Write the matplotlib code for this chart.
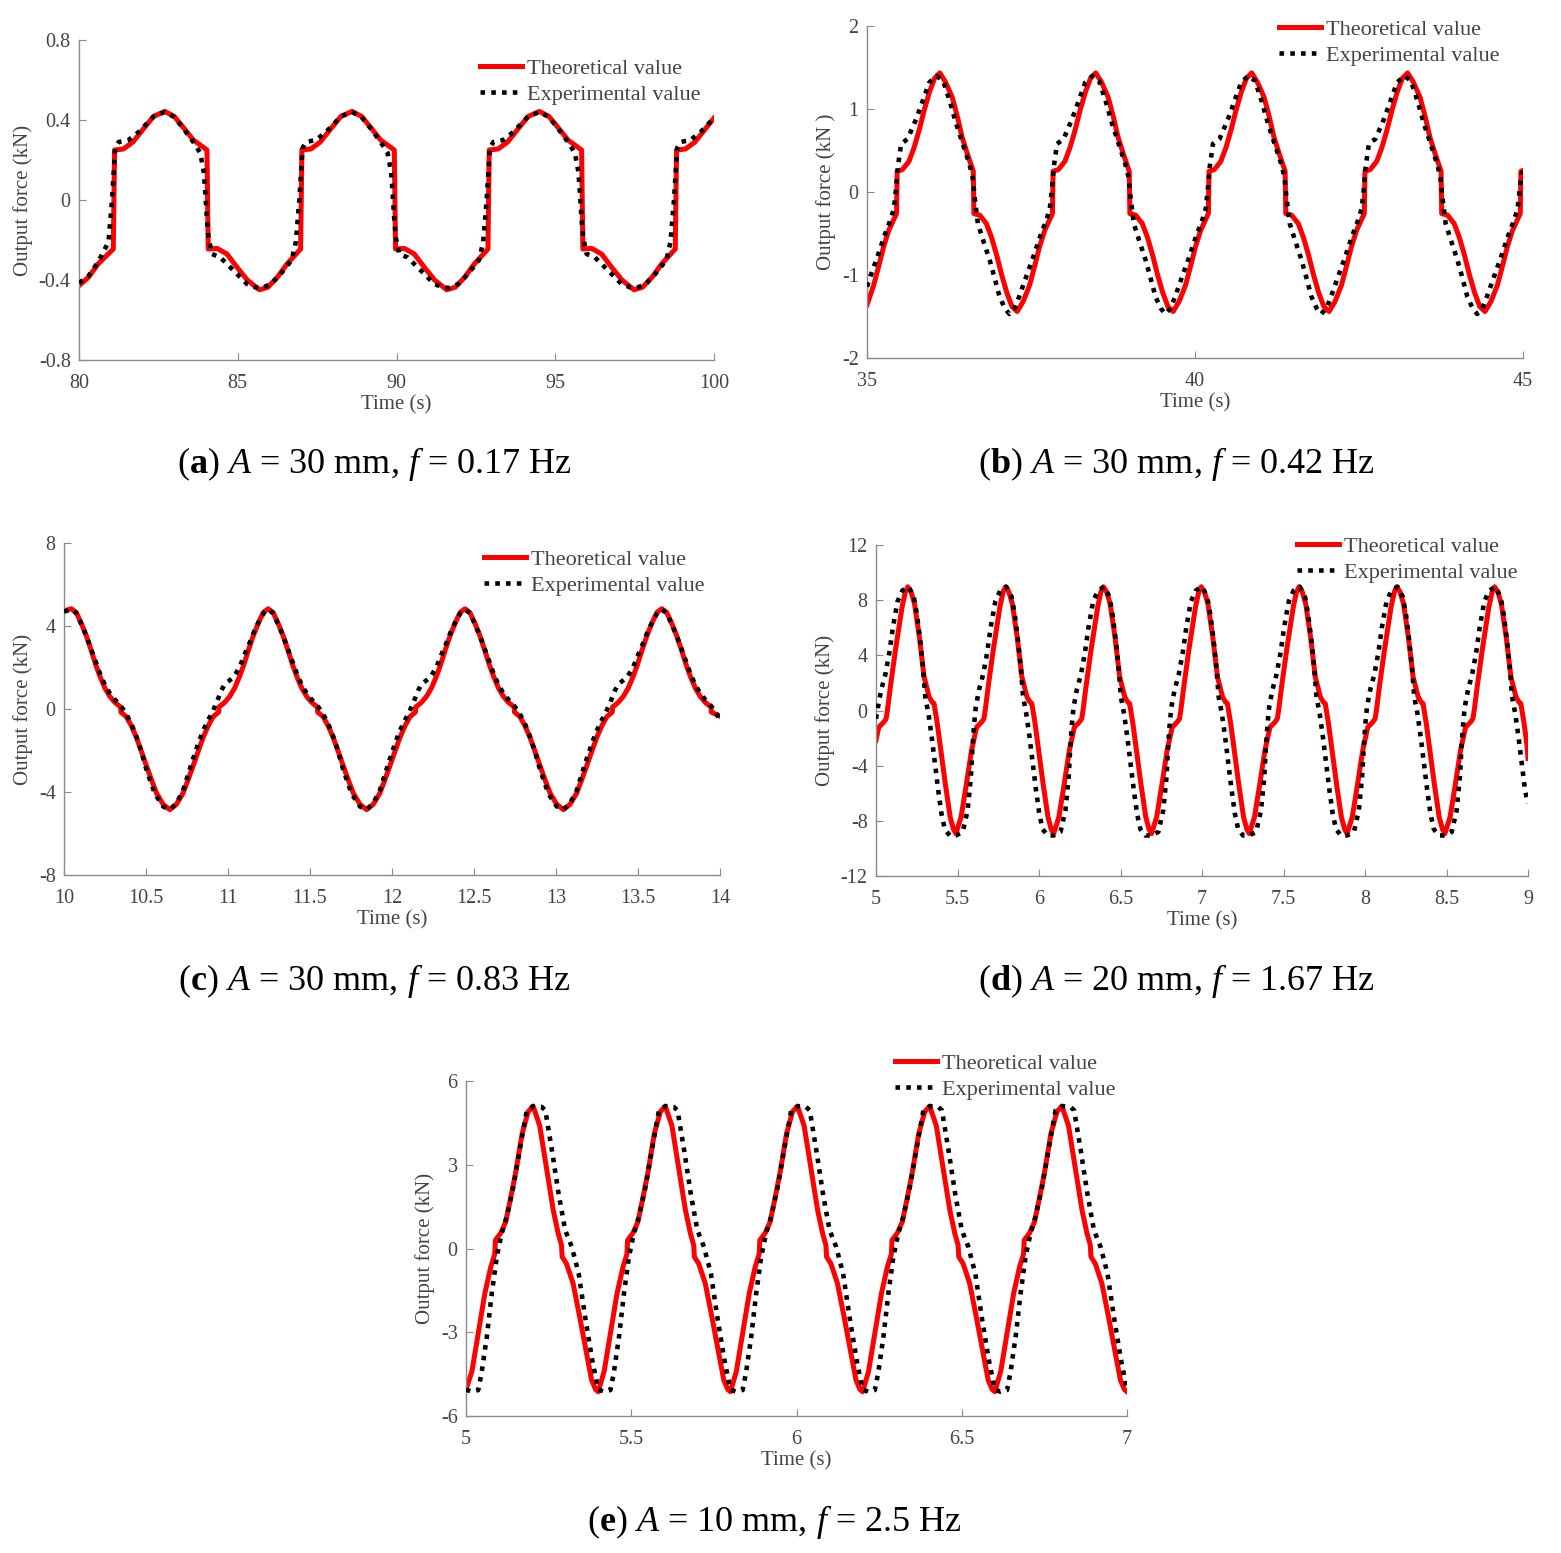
import matplotlib
matplotlib.use("Agg")
import matplotlib.pyplot as plt

plt.rcParams['font.family'] = ['Liberation Serif', 'DejaVu Serif']
plt.rcParams['mathtext.fontset'] = 'custom'
plt.rcParams['mathtext.rm'] = 'Liberation Serif'
plt.rcParams['mathtext.it'] = 'Liberation Serif:italic'
plt.rcParams['mathtext.bf'] = 'Liberation Serif:bold'
plt.rcParams['axes.unicode_minus'] = False

# ---------------- data ----------------
# (a) A = 30 mm, f = 0.17 Hz
a_theo_t = [80.00, 80.30, 80.60, 81.08, 81.12, 81.40, 81.70, 82.05, 82.35, 82.70, 83.00, 83.30, 83.60, 84.03, 84.07,
            84.35, 84.66, 84.98, 85.30, 85.68, 85.95, 86.25, 86.55, 86.98, 87.02, 87.30, 87.60, 87.95, 88.25, 88.60,
            88.90, 89.20, 89.50, 89.93, 89.97, 90.25, 90.56, 90.88, 91.20, 91.58, 91.85, 92.15, 92.45, 92.88, 92.92,
            93.20, 93.50, 93.85, 94.15, 94.50, 94.80, 95.10, 95.40, 95.83, 95.87, 96.15, 96.46, 96.78, 97.10, 97.48,
            97.75, 98.05, 98.35, 98.78, 98.82, 99.10, 99.40, 99.75, 100.00]
a_theo_y = [-0.428, -0.386, -0.320, -0.245, 0.250, 0.255, 0.290, 0.360, 0.418, 0.443, 0.418, 0.360, 0.300, 0.250, -0.245,
            -0.242, -0.270, -0.337, -0.400, -0.449, -0.436, -0.386, -0.320, -0.245, 0.250, 0.255, 0.290, 0.360, 0.418, 0.443,
            0.418, 0.360, 0.300, 0.250, -0.245, -0.242, -0.270, -0.337, -0.400, -0.449, -0.436, -0.386, -0.320, -0.245, 0.250,
            0.255, 0.290, 0.360, 0.418, 0.443, 0.418, 0.360, 0.300, 0.250, -0.245, -0.242, -0.270, -0.337, -0.400, -0.449,
            -0.436, -0.386, -0.320, -0.245, 0.250, 0.255, 0.290, 0.360, 0.410]
a_exp_t = [80.00, 80.30, 80.60, 80.93, 81.04, 81.14, 81.25, 81.56, 81.88, 82.35, 82.70, 83.00, 83.30, 83.60, 83.82,
           83.93, 83.98, 84.03, 84.08, 84.19, 84.45, 84.87, 85.29, 85.55, 85.75, 86.05, 86.35, 86.70, 86.83, 86.94,
           87.04, 87.15, 87.46, 87.78, 88.25, 88.60, 88.90, 89.20, 89.50, 89.72, 89.83, 89.88, 89.93, 89.98, 90.09,
           90.35, 90.77, 91.19, 91.45, 91.65, 91.95, 92.25, 92.60, 92.73, 92.84, 92.94, 93.05, 93.36, 93.68, 94.15,
           94.50, 94.80, 95.10, 95.40, 95.62, 95.73, 95.78, 95.83, 95.88, 95.99, 96.25, 96.67, 97.09, 97.35, 97.55,
           97.85, 98.15, 98.50, 98.63, 98.74, 98.84, 98.95, 99.26, 99.58, 100.00]
a_exp_y = [-0.415, -0.380, -0.310, -0.210, 0.000, 0.260, 0.290, 0.300, 0.340, 0.418, 0.440, 0.415, 0.355, 0.290, 0.235,
           0.140, 0.030, -0.100, -0.190, -0.270, -0.287, -0.353, -0.420, -0.436, -0.440, -0.420, -0.370, -0.300, -0.210, 0.000,
           0.260, 0.290, 0.300, 0.340, 0.418, 0.440, 0.415, 0.355, 0.290, 0.235, 0.140, 0.030, -0.100, -0.190, -0.270,
           -0.287, -0.353, -0.420, -0.436, -0.440, -0.420, -0.370, -0.300, -0.210, 0.000, 0.260, 0.290, 0.300, 0.340, 0.418,
           0.440, 0.415, 0.355, 0.290, 0.235, 0.140, 0.030, -0.100, -0.190, -0.270, -0.287, -0.353, -0.420, -0.436, -0.440,
           -0.420, -0.370, -0.300, -0.210, 0.000, 0.260, 0.290, 0.300, 0.340, 0.410]

# (b) A = 30 mm, f = 0.42 Hz
b_theo_t = [35.000, 35.103, 35.183, 35.253, 35.333, 35.450, 35.460, 35.540, 35.640, 35.720, 35.800, 35.870, 35.950, 36.030,
            36.110, 36.200, 36.300, 36.380, 36.450, 36.530, 36.620, 36.630, 36.720, 36.820, 36.900, 36.980, 37.050, 37.130,
            37.210, 37.290, 37.380, 37.480, 37.560, 37.630, 37.710, 37.827,
            37.837, 37.917, 38.017, 38.097, 38.177, 38.247, 38.327, 38.407, 38.487, 38.577, 38.677, 38.757, 38.827, 38.907,
            38.997, 39.007, 39.097, 39.197, 39.277, 39.357, 39.427, 39.507, 39.587, 39.667, 39.757, 39.857, 39.937, 40.007,
            40.087, 40.204,
            40.214, 40.294, 40.394, 40.474, 40.554, 40.624, 40.704, 40.784, 40.864, 40.954, 41.054, 41.134, 41.204, 41.284,
            41.374, 41.384, 41.474, 41.574, 41.654, 41.734, 41.804, 41.884, 41.964, 42.044, 42.134, 42.234, 42.314, 42.384,
            42.464, 42.581,
            42.591, 42.671, 42.771, 42.851, 42.931, 43.001, 43.081, 43.161, 43.241, 43.331, 43.431, 43.511, 43.581, 43.661,
            43.751, 43.761, 43.851, 43.951, 44.031, 44.111, 44.181, 44.261, 44.341, 44.421, 44.511, 44.611, 44.691, 44.761,
            44.841, 44.958, 44.968, 45.000]
b_theo_y = [-1.36, -1.12, -0.88, -0.66, -0.46, -0.26, 0.25, 0.27, 0.37, 0.54, 0.76, 0.98, 1.20, 1.37,
            1.435, 1.32, 1.14, 0.90, 0.66, 0.46, 0.25, -0.26, -0.28, -0.38, -0.55, -0.77, -0.99, -1.21,
            -1.38, -1.44, -1.32, -1.12, -0.88, -0.66, -0.46, -0.26,
            0.25, 0.27, 0.37, 0.54, 0.76, 0.98, 1.20, 1.37, 1.435, 1.32, 1.14, 0.90, 0.66, 0.46,
            0.25, -0.26, -0.28, -0.38, -0.55, -0.77, -0.99, -1.21, -1.38, -1.44, -1.32, -1.12, -0.88, -0.66,
            -0.46, -0.26,
            0.25, 0.27, 0.37, 0.54, 0.76, 0.98, 1.20, 1.37, 1.435, 1.32, 1.14, 0.90, 0.66, 0.46,
            0.25, -0.26, -0.28, -0.38, -0.55, -0.77, -0.99, -1.21, -1.38, -1.44, -1.32, -1.12, -0.88, -0.66,
            -0.46, -0.26,
            0.25, 0.27, 0.37, 0.54, 0.76, 0.98, 1.20, 1.37, 1.435, 1.32, 1.14, 0.90, 0.66, 0.46,
            0.25, -0.26, -0.28, -0.38, -0.55, -0.77, -0.99, -1.21, -1.38, -1.44, -1.32, -1.12, -0.88, -0.66,
            -0.46, -0.26, 0.25, 0.26]
b_exp_t = [35.000, 35.050, 35.150, 35.260, 35.360, 35.410, 35.440, 35.470, 35.520, 35.620, 35.750, 35.850, 35.950, 36.060,
           36.160, 36.260, 36.360, 36.460, 36.560, 36.610, 36.640, 36.690, 36.770, 36.870, 36.940, 37.020, 37.100, 37.170,
           37.250, 37.320, 37.427, 37.527, 37.637, 37.737, 37.787,
           37.817, 37.847, 37.897, 37.997, 38.127, 38.227, 38.327, 38.437, 38.537, 38.637, 38.737, 38.837, 38.937, 38.987,
           39.017, 39.067, 39.147, 39.247, 39.317, 39.397, 39.477, 39.547, 39.627, 39.697, 39.804, 39.904, 40.014, 40.114,
           40.164,
           40.194, 40.224, 40.274, 40.374, 40.504, 40.604, 40.704, 40.814, 40.914, 41.014, 41.114, 41.214, 41.314, 41.364,
           41.394, 41.444, 41.524, 41.624, 41.694, 41.774, 41.854, 41.924, 42.004, 42.074, 42.181, 42.281, 42.391, 42.491,
           42.541,
           42.571, 42.601, 42.651, 42.751, 42.881, 42.981, 43.081, 43.191, 43.291, 43.391, 43.491, 43.591, 43.691, 43.741,
           43.771, 43.821, 43.901, 44.001, 44.071, 44.151, 44.231, 44.301, 44.381, 44.451, 44.558, 44.658, 44.768, 44.868,
           44.918, 44.948, 44.978, 45.000]
b_exp_y = [-1.14, -1.02, -0.80, -0.54, -0.33, -0.20, 0.02, 0.30, 0.58, 0.64, 0.88, 1.10, 1.32, 1.40,
           1.34, 1.10, 0.82, 0.58, 0.34, 0.18, -0.06, -0.38, -0.58, -0.82, -1.02, -1.26, -1.40, -1.47,
           -1.40, -1.26, -1.02, -0.80, -0.54, -0.33, -0.20,
           0.02, 0.30, 0.58, 0.64, 0.88, 1.10, 1.32, 1.40, 1.34, 1.10, 0.82, 0.58, 0.34, 0.18,
           -0.06, -0.38, -0.58, -0.82, -1.02, -1.26, -1.40, -1.47, -1.40, -1.26, -1.02, -0.80, -0.54, -0.33,
           -0.20,
           0.02, 0.30, 0.58, 0.64, 0.88, 1.10, 1.32, 1.40, 1.34, 1.10, 0.82, 0.58, 0.34, 0.18,
           -0.06, -0.38, -0.58, -0.82, -1.02, -1.26, -1.40, -1.47, -1.40, -1.26, -1.02, -0.80, -0.54, -0.33,
           -0.20,
           0.02, 0.30, 0.58, 0.64, 0.88, 1.10, 1.32, 1.40, 1.34, 1.10, 0.82, 0.58, 0.34, 0.18,
           -0.06, -0.38, -0.58, -0.82, -1.02, -1.26, -1.40, -1.47, -1.40, -1.26, -1.02, -0.80, -0.54, -0.33,
           -0.20, 0.02, 0.22, 0.25]

# (c) A = 30 mm, f = 0.83 Hz
c_theo_t = [10.000, 10.045, 10.075, 10.105, 10.135, 10.165, 10.195, 10.220, 10.250, 10.280, 10.310, 10.330, 10.345, 10.347,
            10.380, 10.410, 10.440, 10.470, 10.505, 10.535, 10.565, 10.605, 10.645, 10.685, 10.725, 10.755, 10.785, 10.820,
            10.850, 10.880, 10.910, 10.943, 10.945, 10.960, 10.980, 11.010, 11.040, 11.070, 11.095, 11.125, 11.155, 11.185,
            11.215,
            11.245, 11.275, 11.305, 11.335, 11.365, 11.395, 11.420, 11.450, 11.480, 11.510, 11.530, 11.545, 11.547,
            11.580, 11.610, 11.640, 11.670, 11.705, 11.735, 11.765, 11.805, 11.845, 11.885, 11.925, 11.955, 11.985, 12.020,
            12.050, 12.080, 12.110, 12.143, 12.145, 12.160, 12.180, 12.210, 12.240, 12.270, 12.295, 12.325, 12.355, 12.385,
            12.415,
            12.445, 12.475, 12.505, 12.535, 12.565, 12.595, 12.620, 12.650, 12.680, 12.710, 12.730, 12.745, 12.747,
            12.780, 12.810, 12.840, 12.870, 12.905, 12.935, 12.965, 13.005, 13.045, 13.085, 13.125, 13.155, 13.185, 13.220,
            13.250, 13.280, 13.310, 13.343, 13.345, 13.360, 13.380, 13.410, 13.440, 13.470, 13.495, 13.525, 13.555, 13.585,
            13.615,
            13.645, 13.675, 13.705, 13.735, 13.765, 13.795, 13.820, 13.850, 13.880, 13.910, 13.930, 13.945, 13.947, 14.000]
c_theo_y = [4.73, 4.83, 4.65, 4.14, 3.55, 2.85, 2.10, 1.56, 1.00, 0.60, 0.32, 0.19, 0.10, -0.15,
            -0.37, -0.80, -1.34, -2.00, -2.79, -3.45, -4.07, -4.60, -4.85, -4.60, -4.07, -3.45, -2.79, -2.00,
            -1.34, -0.80, -0.37, -0.15, 0.10, 0.19, 0.32, 0.60, 1.00, 1.56, 2.10, 2.85, 3.55, 4.14,
            4.65,
            4.83, 4.65, 4.14, 3.55, 2.85, 2.10, 1.56, 1.00, 0.60, 0.32, 0.19, 0.10, -0.15,
            -0.37, -0.80, -1.34, -2.00, -2.79, -3.45, -4.07, -4.60, -4.85, -4.60, -4.07, -3.45, -2.79, -2.00,
            -1.34, -0.80, -0.37, -0.15, 0.10, 0.19, 0.32, 0.60, 1.00, 1.56, 2.10, 2.85, 3.55, 4.14,
            4.65,
            4.83, 4.65, 4.14, 3.55, 2.85, 2.10, 1.56, 1.00, 0.60, 0.32, 0.19, 0.10, -0.15,
            -0.37, -0.80, -1.34, -2.00, -2.79, -3.45, -4.07, -4.60, -4.85, -4.60, -4.07, -3.45, -2.79, -2.00,
            -1.34, -0.80, -0.37, -0.15, 0.10, 0.19, 0.32, 0.60, 1.00, 1.56, 2.10, 2.85, 3.55, 4.14,
            4.65,
            4.83, 4.65, 4.14, 3.55, 2.85, 2.10, 1.56, 1.00, 0.60, 0.32, 0.19, 0.10, -0.15, -0.35]
c_exp_t = [10.000, 10.045, 10.075, 10.105, 10.135, 10.165, 10.195, 10.220, 10.250, 10.280, 10.310, 10.330, 10.355, 10.380,
           10.410, 10.440, 10.470, 10.500, 10.530, 10.555, 10.605, 10.645, 10.685, 10.725, 10.755, 10.785, 10.815, 10.845,
           10.875, 10.905, 10.935, 10.960, 10.980, 11.005, 11.035, 11.070, 11.100, 11.130, 11.160, 11.190, 11.220,
           11.245, 11.275, 11.305, 11.335, 11.365, 11.395, 11.420, 11.450, 11.480, 11.510, 11.530, 11.555, 11.580,
           11.610, 11.640, 11.670, 11.700, 11.730, 11.755, 11.805, 11.845, 11.885, 11.925, 11.955, 11.985, 12.015, 12.045,
           12.075, 12.105, 12.135, 12.160, 12.180, 12.205, 12.235, 12.270, 12.300, 12.330, 12.360, 12.390, 12.420,
           12.445, 12.475, 12.505, 12.535, 12.565, 12.595, 12.620, 12.650, 12.680, 12.710, 12.730, 12.755, 12.780,
           12.810, 12.840, 12.870, 12.900, 12.930, 12.955, 13.005, 13.045, 13.085, 13.125, 13.155, 13.185, 13.215, 13.245,
           13.275, 13.305, 13.335, 13.360, 13.380, 13.405, 13.435, 13.470, 13.500, 13.530, 13.560, 13.590, 13.620,
           13.645, 13.675, 13.705, 13.735, 13.765, 13.795, 13.820, 13.850, 13.880, 13.910, 13.930, 13.955, 13.980, 14.000]
c_exp_y = [4.70, 4.80, 4.62, 4.10, 3.55, 2.90, 2.25, 1.70, 1.15, 0.75, 0.45, 0.30, 0.05, -0.25,
           -0.70, -1.30, -2.00, -2.85, -3.55, -4.10, -4.70, -4.85, -4.55, -3.95, -3.20, -2.45, -1.75, -1.10,
           -0.60, -0.15, 0.40, 0.90, 1.20, 1.35, 1.55, 2.00, 2.60, 3.15, 3.75, 4.25, 4.65,
           4.80, 4.62, 4.10, 3.55, 2.90, 2.25, 1.70, 1.15, 0.75, 0.45, 0.30, 0.05, -0.25,
           -0.70, -1.30, -2.00, -2.85, -3.55, -4.10, -4.70, -4.85, -4.55, -3.95, -3.20, -2.45, -1.75, -1.10,
           -0.60, -0.15, 0.40, 0.90, 1.20, 1.35, 1.55, 2.00, 2.60, 3.15, 3.75, 4.25, 4.65,
           4.80, 4.62, 4.10, 3.55, 2.90, 2.25, 1.70, 1.15, 0.75, 0.45, 0.30, 0.05, -0.25,
           -0.70, -1.30, -2.00, -2.85, -3.55, -4.10, -4.70, -4.85, -4.55, -3.95, -3.20, -2.45, -1.75, -1.10,
           -0.60, -0.15, 0.40, 0.90, 1.20, 1.35, 1.55, 2.00, 2.60, 3.15, 3.75, 4.25, 4.65,
           4.80, 4.62, 4.10, 3.55, 2.90, 2.25, 1.70, 1.15, 0.75, 0.45, 0.30, 0.05, -0.25, -0.53]

# (d) A = 20 mm, f = 1.67 Hz
d_theo_t = [5.000, 5.017, 5.047, 5.062, 5.070, 5.088, 5.119, 5.160, 5.180, 5.195, 5.215, 5.236, 5.266, 5.295, 5.326,
            5.345, 5.356, 5.376, 5.395, 5.425, 5.455, 5.475,
            5.490, 5.522, 5.555, 5.586, 5.617, 5.647, 5.662, 5.670, 5.688, 5.719, 5.760, 5.780, 5.795, 5.815, 5.836,
            5.866, 5.895, 5.926, 5.945, 5.956, 5.976, 5.995, 6.025, 6.055, 6.075,
            6.090, 6.122, 6.155, 6.186, 6.217, 6.247, 6.262, 6.270, 6.288, 6.319, 6.360, 6.380, 6.395, 6.415, 6.436,
            6.466, 6.495, 6.526, 6.545, 6.556, 6.576, 6.595, 6.625, 6.655, 6.675,
            6.690, 6.722, 6.755, 6.786, 6.817, 6.847, 6.862, 6.870, 6.888, 6.919, 6.960, 6.980, 6.995, 7.015, 7.036,
            7.066, 7.095, 7.126, 7.145, 7.156, 7.176, 7.195, 7.225, 7.255, 7.275,
            7.290, 7.322, 7.355, 7.386, 7.417, 7.447, 7.462, 7.470, 7.488, 7.519, 7.560, 7.580, 7.595, 7.615, 7.636,
            7.666, 7.695, 7.726, 7.745, 7.756, 7.776, 7.795, 7.825, 7.855, 7.875,
            7.890, 7.922, 7.955, 7.986, 8.017, 8.047, 8.062, 8.070, 8.088, 8.119, 8.160, 8.180, 8.195, 8.215, 8.236,
            8.266, 8.295, 8.326, 8.345, 8.356, 8.376, 8.395, 8.425, 8.455, 8.475,
            8.490, 8.522, 8.555, 8.586, 8.617, 8.647, 8.662, 8.670, 8.688, 8.719, 8.760, 8.780, 8.795, 8.815, 8.836,
            8.866, 8.895, 8.926, 8.945, 8.956, 8.976, 8.995, 9.000]
d_theo_y = [-2.16, -1.21, -0.85, -0.60, 0.00, 1.70, 4.36, 7.50, 8.60, 8.97, 8.60, 7.76, 5.34, 2.44, 0.99,
            0.60, 0.51, -0.94, -2.64, -5.30, -7.72, -8.60,
            -8.93, -7.72, -5.30, -2.90, -1.21, -0.85, -0.60, 0.00, 1.70, 4.36, 7.50, 8.60, 8.97, 8.60, 7.76,
            5.34, 2.44, 0.99, 0.60, 0.51, -0.94, -2.64, -5.30, -7.72, -8.60,
            -8.93, -7.72, -5.30, -2.90, -1.21, -0.85, -0.60, 0.00, 1.70, 4.36, 7.50, 8.60, 8.97, 8.60, 7.76,
            5.34, 2.44, 0.99, 0.60, 0.51, -0.94, -2.64, -5.30, -7.72, -8.60,
            -8.93, -7.72, -5.30, -2.90, -1.21, -0.85, -0.60, 0.00, 1.70, 4.36, 7.50, 8.60, 8.97, 8.60, 7.76,
            5.34, 2.44, 0.99, 0.60, 0.51, -0.94, -2.64, -5.30, -7.72, -8.60,
            -8.93, -7.72, -5.30, -2.90, -1.21, -0.85, -0.60, 0.00, 1.70, 4.36, 7.50, 8.60, 8.97, 8.60, 7.76,
            5.34, 2.44, 0.99, 0.60, 0.51, -0.94, -2.64, -5.30, -7.72, -8.60,
            -8.93, -7.72, -5.30, -2.90, -1.21, -0.85, -0.60, 0.00, 1.70, 4.36, 7.50, 8.60, 8.97, 8.60, 7.76,
            5.34, 2.44, 0.99, 0.60, 0.51, -0.94, -2.64, -5.30, -7.72, -8.60,
            -8.93, -7.72, -5.30, -2.90, -1.21, -0.85, -0.60, 0.00, 1.70, 4.36, 7.50, 8.60, 8.97, 8.60, 7.76,
            5.34, 2.44, 0.99, 0.60, 0.51, -0.94, -2.64, -3.48]
d_exp_t = [5.000, 5.012, 5.032, 5.057, 5.082, 5.104, 5.132, 5.162, 5.200, 5.232, 5.252, 5.272, 5.290, 5.302, 5.322,
           5.342, 5.362, 5.382, 5.402, 5.422, 5.452,
           5.490, 5.532, 5.562, 5.582, 5.592, 5.602, 5.612, 5.632, 5.657, 5.682, 5.704, 5.732, 5.762, 5.800, 5.832,
           5.852, 5.872, 5.890, 5.902, 5.922, 5.942, 5.962, 5.982, 6.002, 6.022, 6.052,
           6.090, 6.132, 6.162, 6.182, 6.192, 6.202, 6.212, 6.232, 6.257, 6.282, 6.304, 6.332, 6.362, 6.400, 6.432,
           6.452, 6.472, 6.490, 6.502, 6.522, 6.542, 6.562, 6.582, 6.602, 6.622, 6.652,
           6.690, 6.732, 6.762, 6.782, 6.792, 6.802, 6.812, 6.832, 6.857, 6.882, 6.904, 6.932, 6.962, 7.000, 7.032,
           7.052, 7.072, 7.090, 7.102, 7.122, 7.142, 7.162, 7.182, 7.202, 7.222, 7.252,
           7.290, 7.332, 7.362, 7.382, 7.392, 7.402, 7.412, 7.432, 7.457, 7.482, 7.504, 7.532, 7.562, 7.600, 7.632,
           7.652, 7.672, 7.690, 7.702, 7.722, 7.742, 7.762, 7.782, 7.802, 7.822, 7.852,
           7.890, 7.932, 7.962, 7.982, 7.992, 8.002, 8.012, 8.032, 8.057, 8.082, 8.104, 8.132, 8.162, 8.200, 8.232,
           8.252, 8.272, 8.290, 8.302, 8.322, 8.342, 8.362, 8.382, 8.402, 8.422, 8.452,
           8.490, 8.532, 8.562, 8.582, 8.592, 8.602, 8.612, 8.632, 8.657, 8.682, 8.704, 8.732, 8.762, 8.800, 8.832,
           8.852, 8.872, 8.890, 8.902, 8.922, 8.942, 8.962, 8.982, 9.000]
d_exp_y = [-0.60, 0.24, 1.50, 2.60, 4.20, 6.05, 7.90, 8.70, 8.97, 8.24, 6.90, 5.00, 2.90, 1.00, -0.24,
           -1.94, -3.87, -5.80, -7.50, -8.60, -9.06,
           -9.06, -8.80, -7.25, -4.84, -2.66, -1.00, 0.24, 1.50, 2.60, 4.20, 6.05, 7.90, 8.70, 8.97, 8.24,
           6.90, 5.00, 2.90, 1.00, -0.24, -1.94, -3.87, -5.80, -7.50, -8.60, -9.06,
           -9.06, -8.80, -7.25, -4.84, -2.66, -1.00, 0.24, 1.50, 2.60, 4.20, 6.05, 7.90, 8.70, 8.97, 8.24,
           6.90, 5.00, 2.90, 1.00, -0.24, -1.94, -3.87, -5.80, -7.50, -8.60, -9.06,
           -9.06, -8.80, -7.25, -4.84, -2.66, -1.00, 0.24, 1.50, 2.60, 4.20, 6.05, 7.90, 8.70, 8.97, 8.24,
           6.90, 5.00, 2.90, 1.00, -0.24, -1.94, -3.87, -5.80, -7.50, -8.60, -9.06,
           -9.06, -8.80, -7.25, -4.84, -2.66, -1.00, 0.24, 1.50, 2.60, 4.20, 6.05, 7.90, 8.70, 8.97, 8.24,
           6.90, 5.00, 2.90, 1.00, -0.24, -1.94, -3.87, -5.80, -7.50, -8.60, -9.06,
           -9.06, -8.80, -7.25, -4.84, -2.66, -1.00, 0.24, 1.50, 2.60, 4.20, 6.05, 7.90, 8.70, 8.97, 8.24,
           6.90, 5.00, 2.90, 1.00, -0.24, -1.94, -3.87, -5.80, -7.50, -8.60, -9.06,
           -9.06, -8.80, -7.25, -4.84, -2.66, -1.00, 0.24, 1.50, 2.60, 4.20, 6.05, 7.90, 8.70, 8.97, 8.24,
           6.90, 5.00, 2.90, 1.00, -0.24, -1.94, -3.87, -5.80, -6.75]

# (e) A = 10 mm, f = 2.5 Hz
e_theo_t = [5.000, 5.018, 5.037, 5.057, 5.075, 5.087, 5.089, 5.105, 5.120, 5.135, 5.150, 5.170, 5.188, 5.203, 5.223,
            5.243, 5.264, 5.279, 5.289, 5.291, 5.304, 5.324, 5.344, 5.365, 5.380, 5.392,
            5.400, 5.418, 5.437, 5.457, 5.475, 5.487, 5.489, 5.505, 5.520, 5.535, 5.550, 5.570, 5.588, 5.603, 5.623,
            5.643, 5.664, 5.679, 5.689, 5.691, 5.704, 5.724, 5.744, 5.765, 5.780, 5.792,
            5.800, 5.818, 5.837, 5.857, 5.875, 5.887, 5.889, 5.905, 5.920, 5.935, 5.950, 5.970, 5.988, 6.003, 6.023,
            6.043, 6.064, 6.079, 6.089, 6.091, 6.104, 6.124, 6.144, 6.165, 6.180, 6.192,
            6.200, 6.218, 6.237, 6.257, 6.275, 6.287, 6.289, 6.305, 6.320, 6.335, 6.350, 6.370, 6.388, 6.403, 6.423,
            6.443, 6.464, 6.479, 6.489, 6.491, 6.504, 6.524, 6.544, 6.565, 6.580, 6.592,
            6.600, 6.618, 6.637, 6.657, 6.675, 6.687, 6.689, 6.705, 6.720, 6.735, 6.750, 6.770, 6.788, 6.803, 6.823,
            6.843, 6.864, 6.879, 6.889, 6.891, 6.904, 6.924, 6.944, 6.965, 6.980, 6.992, 7.000]
e_theo_y = [-5.05, -4.40, -3.04, -1.61, -0.66, -0.20, 0.30, 0.55, 0.95, 1.80, 2.70, 4.12, 4.90, 5.10, 4.40,
            2.92, 1.37, 0.54, 0.12, -0.30, -0.54, -1.25, -2.45, -3.76, -4.71, -5.05,
            -5.13, -4.40, -3.04, -1.61, -0.66, -0.20, 0.30, 0.55, 0.95, 1.80, 2.70, 4.12, 4.90, 5.10, 4.40,
            2.92, 1.37, 0.54, 0.12, -0.30, -0.54, -1.25, -2.45, -3.76, -4.71, -5.05,
            -5.13, -4.40, -3.04, -1.61, -0.66, -0.20, 0.30, 0.55, 0.95, 1.80, 2.70, 4.12, 4.90, 5.10, 4.40,
            2.92, 1.37, 0.54, 0.12, -0.30, -0.54, -1.25, -2.45, -3.76, -4.71, -5.05,
            -5.13, -4.40, -3.04, -1.61, -0.66, -0.20, 0.30, 0.55, 0.95, 1.80, 2.70, 4.12, 4.90, 5.10, 4.40,
            2.92, 1.37, 0.54, 0.12, -0.30, -0.54, -1.25, -2.45, -3.76, -4.71, -5.05,
            -5.13, -4.40, -3.04, -1.61, -0.66, -0.20, 0.30, 0.55, 0.95, 1.80, 2.70, 4.12, 4.90, 5.10, 4.40,
            2.92, 1.37, 0.54, 0.12, -0.30, -0.54, -1.25, -2.45, -3.76, -4.71, -5.05, -5.13]
e_exp_t = [5.000, 5.017, 5.037, 5.047, 5.063, 5.078, 5.093, 5.108, 5.123, 5.143, 5.164, 5.184, 5.204, 5.229, 5.240,
           5.260, 5.280, 5.300, 5.320, 5.341, 5.362, 5.382,
           5.400, 5.417, 5.437, 5.447, 5.463, 5.478, 5.493, 5.508, 5.523, 5.543, 5.564, 5.584, 5.604, 5.629, 5.640,
           5.660, 5.680, 5.700, 5.720, 5.741, 5.762, 5.782,
           5.800, 5.817, 5.837, 5.847, 5.863, 5.878, 5.893, 5.908, 5.923, 5.943, 5.964, 5.984, 6.004, 6.029, 6.040,
           6.060, 6.080, 6.100, 6.120, 6.141, 6.162, 6.182,
           6.200, 6.217, 6.237, 6.247, 6.263, 6.278, 6.293, 6.308, 6.323, 6.343, 6.364, 6.384, 6.404, 6.429, 6.440,
           6.460, 6.480, 6.500, 6.520, 6.541, 6.562, 6.582,
           6.600, 6.617, 6.637, 6.647, 6.663, 6.678, 6.693, 6.708, 6.723, 6.743, 6.764, 6.784, 6.804, 6.829, 6.840,
           6.860, 6.880, 6.900, 6.920, 6.941, 6.962, 6.982, 7.000]
e_exp_y = [-5.05, -5.13, -5.07, -4.47, -3.16, -1.61, -0.30, 0.54, 1.13, 2.20, 3.64, 4.95, 5.10, 5.07, 4.95,
           3.52, 1.97, 0.66, 0.06, -0.90, -2.57, -4.00,
           -5.05, -5.13, -5.07, -4.47, -3.16, -1.61, -0.30, 0.54, 1.13, 2.20, 3.64, 4.95, 5.10, 5.07, 4.95,
           3.52, 1.97, 0.66, 0.06, -0.90, -2.57, -4.00,
           -5.05, -5.13, -5.07, -4.47, -3.16, -1.61, -0.30, 0.54, 1.13, 2.20, 3.64, 4.95, 5.10, 5.07, 4.95,
           3.52, 1.97, 0.66, 0.06, -0.90, -2.57, -4.00,
           -5.05, -5.13, -5.07, -4.47, -3.16, -1.61, -0.30, 0.54, 1.13, 2.20, 3.64, 4.95, 5.10, 5.07, 4.95,
           3.52, 1.97, 0.66, 0.06, -0.90, -2.57, -4.00,
           -5.05, -5.13, -5.07, -4.47, -3.16, -1.61, -0.30, 0.54, 1.13, 2.20, 3.64, 4.95, 5.10, 5.07, 4.95,
           3.52, 1.97, 0.66, 0.06, -0.90, -2.57, -4.00, -5.05]

a_xticks = [80, 85, 90, 95, 100]
a_yticks = [-0.8, -0.4, 0, 0.4, 0.8]
b_xticks = [35, 40, 45]
b_yticks = [-2, -1, 0, 1, 2]
c_xticks = [10, 10.5, 11, 11.5, 12, 12.5, 13, 13.5, 14]
c_yticks = [-8, -4, 0, 4, 8]
d_xticks = [5, 5.5, 6, 6.5, 7, 7.5, 8, 8.5, 9]
d_yticks = [-12, -8, -4, 0, 4, 8, 12]
e_xticks = [5, 5.5, 6, 6.5, 7]
e_yticks = [-6, -3, 0, 3, 6]

legend_labels = ["Theoretical value", "Experimental value"]
xlabel_text = "Time (s)"
ylabel_texts = ["Output force (kN)", "Output force (kN )", "Output force (kN)", "Output force (kN)", "Output force (kN)"]
captions = [r"($\mathbf{a}$) $A$ = 30 mm, $f$ = 0.17 Hz",
            r"($\mathbf{b}$) $A$ = 30 mm, $f$ = 0.42 Hz",
            r"($\mathbf{c}$) $A$ = 30 mm, $f$ = 0.83 Hz",
            r"($\mathbf{d}$) $A$ = 20 mm, $f$ = 1.67 Hz",
            r"($\mathbf{e}$) $A$ = 10 mm, $f$ = 2.5 Hz"]

# ---------------- figure ----------------
W, H = 1561, 1553
fig = plt.figure(figsize=(W / 100, H / 100), dpi=100)

TXT = '#444444'
SPN = '#8a8a8a'


def px_axes(left, right, top, bottom):
    return fig.add_axes([left / W, 1 - bottom / H, (right - left) / W, (bottom - top) / H])


def fmt(v):
    return '%g' % v


def draw(ax, tt, ty, et, ey, xt, yt, ylabel, leg_xy):
    l1, = ax.plot(tt, ty, color='#ff0000', lw=3.6, solid_joinstyle='round', zorder=2)
    l2, = ax.plot(et, ey, color='black', lw=3.3, linestyle=(0, (1.0, 1.35)),
                  dash_capstyle='butt', zorder=3)
    ax.set_xlim(xt[0], xt[-1])
    ax.set_ylim(yt[0], yt[-1])
    ax.set_xticks(xt)
    ax.set_xticklabels([fmt(v) for v in xt])
    ax.set_yticks(yt)
    ax.set_yticklabels([fmt(v) for v in yt])
    for s in ['top', 'right']:
        ax.spines[s].set_visible(False)
    for s in ['left', 'bottom']:
        ax.spines[s].set_color(SPN)
        ax.spines[s].set_linewidth(1.0)
    ax.tick_params(direction='in', length=5, width=0.8, color=SPN, labelcolor=TXT,
                   labelsize=14.5)
    ax.tick_params(axis='x', pad=10)
    ax.tick_params(axis='y', pad=6)
    ax.set_xlabel(xlabel_text, fontsize=15, color=TXT, labelpad=2)
    ax.set_ylabel(ylabel, fontsize=15, color=TXT, labelpad=4)
    ax.patch.set_alpha(0)
    leg = ax.legend([l1, l2], legend_labels, loc='upper left',
                    bbox_to_anchor=(leg_xy[0] / W, 1 - leg_xy[1] / H),
                    bbox_transform=fig.transFigure, frameon=False, borderpad=0,
                    borderaxespad=0, handlelength=1.9, handletextpad=0.2,
                    labelspacing=0.25, fontsize=16)
    for t in leg.get_texts():
        t.set_color(TXT)
    return ax


axA = px_axes(79, 714, 40, 360)
draw(axA, a_theo_t, a_theo_y, a_exp_t, a_exp_y, a_xticks, a_yticks, ylabel_texts[0], (480, 58))
axB = px_axes(867, 1523, 26, 358)
draw(axB, b_theo_t, b_theo_y, b_exp_t, b_exp_y, b_xticks, b_yticks, ylabel_texts[1], (1279, 19))
axC = px_axes(64, 720, 543, 875)
draw(axC, c_theo_t, c_theo_y, c_exp_t, c_exp_y, c_xticks, c_yticks, ylabel_texts[2], (484, 549))
axD = px_axes(876, 1528, 545, 876)
draw(axD, d_theo_t, d_theo_y, d_exp_t, d_exp_y, d_xticks, d_yticks, ylabel_texts[3], (1297, 536))
axE = px_axes(466, 1127, 1081, 1416)
draw(axE, e_theo_t, e_theo_y, e_exp_t, e_exp_y, e_xticks, e_yticks, ylabel_texts[4], (895, 1053))

cap_pos = [(374, 464), (1176, 464), (374, 981), (1176, 981), (774, 1522)]
for (cx, cy), cap in zip(cap_pos, captions):
    fig.text(cx / W, 1 - cy / H, cap, ha='center', va='center', fontsize=26, color='black')

fig.savefig('out.png', dpi=100)
